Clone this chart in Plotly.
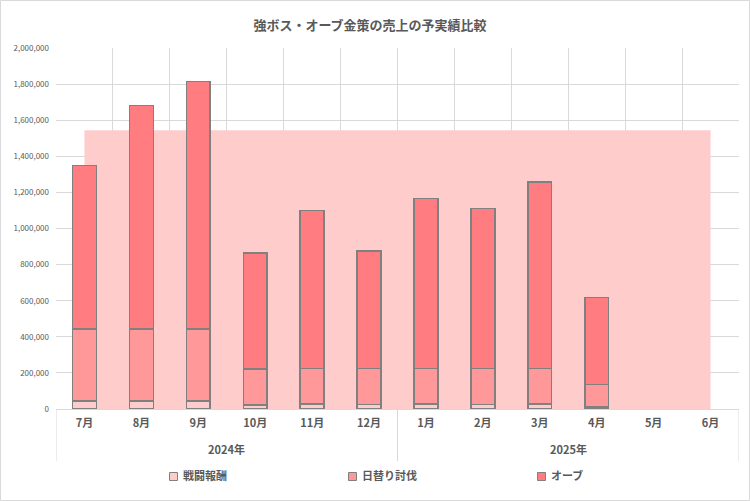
import plotly.graph_objects as go

year_labels = ["2024年", "2025年"]
months = ["7月", "8月", "9月", "10月", "11月", "12月", "1月", "2月", "3月", "4月", "5月", "6月"]

battle = [45000, 45000, 45000, 22000, 27000, 25000, 27000, 25000, 27000, 12000, None, None]
daily = [398000, 398000, 398000, 201000, 198000, 200000, 198000, 200000, 198000, 124000, None, None]
totals = [1348000, 1682000, 1815000, 864000, 1099000, 875000, 1165000, 1110000, 1259000, 617000, None, None]
orb = [None if t is None else t - b - d for t, b, d in zip(totals, battle, daily)]
budget = [1545000] * 12

series_names = ["戦闘報酬", "日替り討伐", "オーブ"]
series_colors = ["#FFCCCC", "#FF9999", "#FF7C80"]

FONT = "Noto Sans CJK JP"
GRAY = "#595959"
GRID = "#D9D9D9"
EDGE = "#808080"

L, R, T, B = 56, 11, 48, 92
W, H = 750, 501
pw, ph = W - L - R, H - T - B
BOTTOM = T + ph


def px_x(px):
    return (px - L) / pw


def px_y(py):
    return (BOTTOM - py) / ph


fig = go.Figure()
fig.add_trace(go.Scatter(x=months, y=budget, fill="tozeroy", mode="none",
                         fillcolor="#FFCCCC", showlegend=False, name="予算",
                         hoverinfo="skip", xaxis="x", yaxis="y"))
outline = dict(color=EDGE, width=1.5)
for name, vals, col in zip(series_names, [battle, daily, orb], series_colors):
    fig.add_trace(go.Bar(x=months, y=vals, name=name, showlegend=False,
                         marker=dict(color=col, line=outline), xaxis="x2", yaxis="y2"))

xr = [-0.5, len(months) - 0.5]
yr = [0, 2000000]

shapes = [dict(type="rect", xref="paper", yref="paper",
               x0=px_x(0.5), x1=px_x(W - 0.5), y0=px_y(H - 0.5), y1=px_y(0.5),
               line=dict(color=GRID, width=1), layer="below")]
for xb in (-0.5, 5.5, 11.5):
    shapes.append(dict(type="line", xref="x", yref="paper", x0=xb, x1=xb,
                       y0=0, y1=px_y(461), line=dict(color=GRID, width=1)))

annotations = []
for i, yl in enumerate(year_labels):
    annotations.append(dict(text=yl, xref="x", yref="paper", x=2.5 + 6 * i,
                            y=px_y(449), yanchor="middle", showarrow=False,
                            font=dict(family=FONT, size=11, color=GRAY, weight="bold")))

# manual legend
legend_box_x = [169.5, 348.5, 537.5]
for name, col, bx in zip(series_names, series_colors, legend_box_x):
    shapes.append(dict(type="rect", xref="paper", yref="paper",
                       x0=px_x(bx), x1=px_x(bx + 8), y0=px_y(480.5), y1=px_y(472.5),
                       fillcolor=col, line=dict(color=EDGE, width=1)))
    annotations.append(dict(text=name, xref="paper", yref="paper", x=px_x(bx + 11),
                            xanchor="left", y=px_y(475.5), yanchor="middle", showarrow=False,
                            font=dict(family=FONT, size=11, color=GRAY, weight="bold")))

fig.update_layout(
    width=W, height=H,
    margin=dict(l=L, r=R, t=T, b=B, autoexpand=False),
    barmode="stack", bargap=0.58,
    plot_bgcolor="white", paper_bgcolor="white",
    font=dict(family=FONT, color=GRAY),
    showlegend=False,
    title=dict(text="強ボス・オーブ金策の売上の予実績比較", x=370 / W, xanchor="center",
               yref="container", y=1 - 25 / H, yanchor="middle", pad=dict(t=0, b=0),
               font=dict(family=FONT, size=13, color=GRAY, weight="bold")),
    xaxis=dict(type="category", categoryarray=months, range=xr, tickson="boundaries",
               showgrid=True, gridcolor=GRID, gridwidth=1, showline=True, linecolor=GRID,
               ticks="", tickfont=dict(family=FONT, size=11, color=GRAY, weight="bold"),
               ticklabelstandoff=4, automargin=False),
    yaxis=dict(range=yr, dtick=200000, tickformat=",", showgrid=True,
               gridcolor=GRID, gridwidth=1, zeroline=False, showline=False,
               tickfont=dict(family=FONT, size=8, color=GRAY), automargin=False,
               ticklabelstandoff=6),
    xaxis2=dict(type="category", categoryarray=months, range=xr, overlaying="x",
                visible=False, showgrid=False),
    yaxis2=dict(range=yr, overlaying="y", visible=False, showgrid=False, zeroline=False),
    shapes=shapes,
    annotations=annotations,
)

fig.write_html("out.html", config={"displayModeBar": False},
               post_script="document.body.style.margin='0';document.body.style.overflow='hidden';")
